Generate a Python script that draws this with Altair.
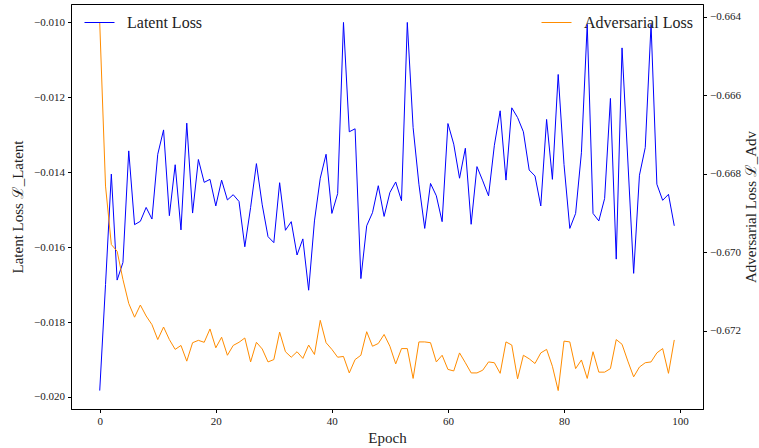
import altair as alt
import pandas as pd

epochs = list(range(100))

latent_loss = [
    -0.01983, -0.01700, -0.01405, -0.01688, -0.01641, -0.01343, -0.01540, -0.01531, -0.01494, -0.01525,
    -0.01352, -0.01287, -0.01516, -0.01380, -0.01554, -0.01269, -0.01509, -0.01366, -0.01427, -0.01419,
    -0.01490, -0.01421, -0.01474, -0.01460, -0.01478, -0.01599, -0.01494, -0.01377, -0.01487, -0.01572,
    -0.01588, -0.01428, -0.01555, -0.01532, -0.01621, -0.01578, -0.01715, -0.01530, -0.01416, -0.01352,
    -0.01510, -0.01457, -0.01000, -0.01292, -0.01284, -0.01684, -0.01543, -0.01508, -0.01436, -0.01518,
    -0.01454, -0.01426, -0.01476, -0.01000, -0.01281, -0.01432, -0.01550, -0.01430, -0.01463, -0.01532,
    -0.01270, -0.01325, -0.01416, -0.01336, -0.01539, -0.01385, -0.01423, -0.01463, -0.01328, -0.01236,
    -0.01421, -0.01228, -0.01254, -0.01292, -0.01394, -0.01410, -0.01490, -0.01259, -0.01419, -0.01139,
    -0.01379, -0.01550, -0.01510, -0.01348, -0.01005, -0.01510, -0.01530, -0.01470, -0.01203, -0.01632,
    -0.01068, -0.01370, -0.01670, -0.01408, -0.01334, -0.01005, -0.01432, -0.01475, -0.01459, -0.01543,
]

adversarial_loss = [
    -0.66414, -0.66831, -0.66980, -0.66997, -0.67069, -0.67130, -0.67165, -0.67134, -0.67162, -0.67184,
    -0.67222, -0.67190, -0.67222, -0.67247, -0.67237, -0.67277, -0.67230, -0.67224, -0.67229, -0.67195,
    -0.67243, -0.67216, -0.67262, -0.67237, -0.67229, -0.67218, -0.67279, -0.67229, -0.67246, -0.67279,
    -0.67273, -0.67203, -0.67253, -0.67267, -0.67253, -0.67270, -0.67236, -0.67260, -0.67173, -0.67230,
    -0.67247, -0.67267, -0.67265, -0.67307, -0.67273, -0.67262, -0.67202, -0.67239, -0.67232, -0.67209,
    -0.67239, -0.67284, -0.67245, -0.67245, -0.67321, -0.67228, -0.67228, -0.67230, -0.67279, -0.67262,
    -0.67298, -0.67302, -0.67256, -0.67281, -0.67307, -0.67307, -0.67300, -0.67279, -0.67281, -0.67308,
    -0.67228, -0.67236, -0.67322, -0.67262, -0.67271, -0.67283, -0.67256, -0.67247, -0.67290, -0.67352,
    -0.67226, -0.67228, -0.67296, -0.67274, -0.67321, -0.67253, -0.67305, -0.67305, -0.67296, -0.67222,
    -0.67234, -0.67277, -0.67317, -0.67292, -0.67281, -0.67279, -0.67256, -0.67245, -0.67308, -0.67223,
]

x_ticks = [0, 20, 40, 60, 80, 100]
left_ticks = [-0.020, -0.018, -0.016, -0.014, -0.012, -0.010]
right_ticks = [-0.674, -0.672, -0.670, -0.668, -0.666, -0.664]

df = pd.DataFrame({"epoch": epochs, "latent": latent_loss, "adv": adversarial_loss})

FONT = "Liberation Serif"

x_enc = alt.X(
    "epoch:Q",
    scale=alt.Scale(domain=[-4.95, 103.95], nice=False, zero=False),
    axis=alt.Axis(values=x_ticks, title="Epoch", format="d"),
)

legend_common = dict(
    symbolType="stroke",
    symbolStrokeWidth=1,
    symbolSize=900,
    labelFont=FONT,
    labelFontSize=16,
    labelColor="#222222",
    labelOffset=12,
    padding=0,
    title=None,
    orient="none",
)

latent = alt.Chart(df).transform_calculate(s1="'Latent Loss'").mark_line(strokeWidth=1).encode(
    x=x_enc,
    y=alt.Y(
        "latent:Q",
        scale=alt.Scale(domain=[-0.020322, -0.009508], nice=False, zero=False),
        axis=alt.Axis(orient="left", values=left_ticks, format=".3f",
                      title="Latent Loss ℒ_Latent", titlePadding=8),
    ),
    color=alt.Color(
        "s1:N",
        scale=alt.Scale(domain=["Latent Loss"], range=["#0000ff"]),
        legend=alt.Legend(legendX=13, legendY=3, **legend_common),
    ),
)

adv = alt.Chart(df).transform_calculate(s2="'Adversarial Loss'").mark_line(strokeWidth=1).encode(
    x=x_enc,
    y=alt.Y(
        "adv:Q",
        scale=alt.Scale(domain=[-0.673989, -0.663671], nice=False, zero=False),
        axis=alt.Axis(orient="right", values=right_ticks, format=".3f",
                      title="Adversarial Loss ℒ_Adv", titleAngle=270, titlePadding=18),
    ),
    color=alt.Color(
        "s2:N",
        scale=alt.Scale(domain=["Adversarial Loss"], range=["#ff8c00"]),
        legend=alt.Legend(legendX=470, legendY=3, **legend_common),
    ),
)

chart = (
    alt.layer(latent, adv)
    .resolve_scale(y="independent", color="independent")
    .properties(
        width=632,
        height=405,
        autosize=alt.AutoSizeParams(type="none"),
        padding={"left": 71, "top": 4, "right": 56, "bottom": 39},
    )
    .configure_view(stroke="black", strokeWidth=1)
    .configure_axis(
        grid=False,
        domainColor="black",
        tickColor="black",
        tickSize=3.5,
        labelFont=FONT,
        labelFontSize=11,
        labelColor="#222222",
        titleFont=FONT,
        titleFontSize=15,
        titleFontWeight="normal",
        titleColor="#222222",
        labelPadding=3,
    )
)

chart.save("out.html", embed_options={"renderer": "svg", "actions": False})
